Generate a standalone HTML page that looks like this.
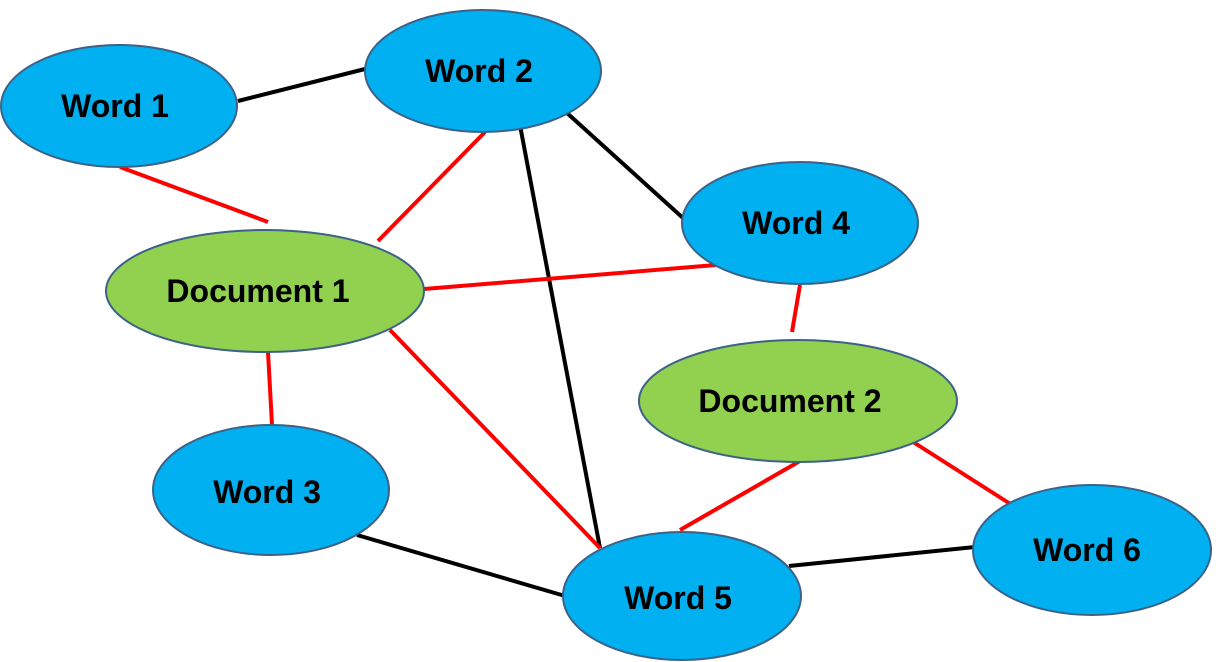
<!DOCTYPE html>
<html><head><meta charset="utf-8"><style>
html,body{margin:0;padding:0;background:#fff;}
svg{display:block;}
text{font-family:"Liberation Sans",sans-serif;font-weight:bold;font-size:32px;fill:#000;text-anchor:middle;dominant-baseline:central;}
</style></head><body>
<svg width="1222" height="662" viewBox="0 0 1222 662">
<g stroke-width="4" stroke-linecap="butt">
<g stroke="#000">
<line x1="238" y1="101" x2="365" y2="69"/>
<line x1="519" y1="120" x2="600" y2="548"/>
<line x1="567" y1="113" x2="683" y2="218"/>
<line x1="357" y1="535" x2="565" y2="596"/>
<line x1="789" y1="566" x2="975" y2="547"/>
</g>
<g stroke="#ff0000">
<line x1="120" y1="167" x2="268" y2="222"/>
<line x1="485" y1="132" x2="378" y2="241"/>
<line x1="424" y1="289" x2="716" y2="265"/>
<line x1="390" y1="330" x2="600" y2="548"/>
<line x1="268" y1="352" x2="272" y2="425"/>
<line x1="800" y1="285" x2="792" y2="332"/>
<line x1="800" y1="461" x2="680" y2="530"/>
<line x1="910" y1="440" x2="1012" y2="505"/>
</g>
</g>
<g stroke="#3c6287" stroke-width="2">
<ellipse cx="119" cy="106" rx="118" ry="61" fill="#00b0f0"/>
<ellipse cx="483" cy="71" rx="118" ry="61" fill="#00b0f0"/>
<ellipse cx="800" cy="223" rx="118" ry="61" fill="#00b0f0"/>
<ellipse cx="265" cy="291" rx="159" ry="61" fill="#92d050"/>
<ellipse cx="798" cy="401" rx="159" ry="61" fill="#92d050"/>
<ellipse cx="271" cy="490" rx="118" ry="65" fill="#00b0f0"/>
<ellipse cx="682" cy="596" rx="119" ry="64" fill="#00b0f0"/>
<ellipse cx="1092" cy="550" rx="119" ry="65" fill="#00b0f0"/>
</g>
<text x="115" y="106">Word 1</text>
<text x="479" y="71">Word 2</text>
<text x="796" y="223">Word 4</text>
<text x="258" y="291">Document 1</text>
<text x="790" y="401">Document 2</text>
<text x="267" y="492">Word 3</text>
<text x="678" y="598">Word 5</text>
<text x="1087" y="550">Word 6</text>
</svg>
</body></html>
